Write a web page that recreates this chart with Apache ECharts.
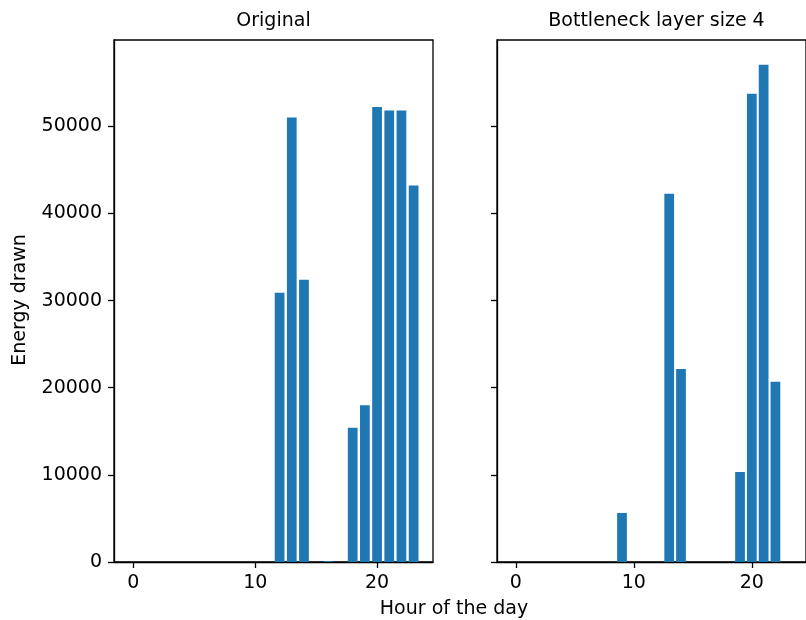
<!DOCTYPE html>
<html>
<head>
<meta charset="utf-8">
<title>Energy drawn by hour</title>
<script src="https://cdn.jsdelivr.net/npm/echarts@6/dist/echarts.min.js"></script>
<style>
  html, body { margin: 0; padding: 0; background: #fff; }
  #chart { width: 806px; height: 620px; }
</style>
</head>
<body>
<div id="chart"></div>
<script>
// hours 0..23
var hours = [0, 1, 2, 3, 4, 5, 6, 7, 8, 9, 10, 11, 12, 13, 14, 15, 16, 17, 18, 19, 20, 21, 22, 23];
var original = [0, 0, 0, 0, 0, 0, 0, 0, 0, 0, 0, 0, 30900, 51000, 32400, 0, 100, 0, 15400, 18000, 52200, 51800, 51800, 43200];
var bottleneck = [0, 0, 0, 0, 0, 0, 0, 0, 0, 5630, 0, 0, 0, 42250, 22160, 0, 0, 0, 0, 10330, 53730, 57060, 20670, 0];
var panelTitles = ["Original", "Bottleneck layer size 4"];
var xTicks = [0, 10, 20];
var yTicks = [0, 10000, 20000, 30000, 40000, 50000];

var font = "DejaVu Sans";
var fontSize = 19;
var blue = "#1f77b4";

function pairs(values) {
  var out = [];
  for (var i = 0; i < hours.length; i++) {
    out.push([hours[i], values[i]]);
  }
  return out;
}

function xAxisFor(idx) {
  return {
    type: "value",
    gridIndex: idx,
    min: -1.59,
    max: 24.59,
    splitLine: { show: false },
    axisLine: { show: true, onZero: false, lineStyle: { color: "#000", width: 1.3 } },
    axisTick: { show: true, length: 6, customValues: xTicks, lineStyle: { color: "#000", width: 1.3 } },
    axisLabel: { customValues: xTicks, color: "#000", fontFamily: font, fontSize: fontSize, margin: 12 },
  };
}

function yAxisFor(idx, labels) {
  return {
    type: "value",
    gridIndex: idx,
    min: 0,
    max: 59900,
    splitLine: { show: false },
    axisLine: { show: true, onZero: false, lineStyle: { color: "#000", width: 1.3 } },
    axisTick: { show: true, length: 6, customValues: yTicks, lineStyle: { color: "#000", width: 1.3 } },
    axisLabel: {
      show: labels,
      customValues: yTicks,
      color: "#000",
      fontFamily: font,
      fontSize: fontSize,
      margin: 12,
      formatter: function (v) { return String(v); },
    },
  };
}

var chart = echarts.init(document.getElementById("chart"), null, { renderer: "canvas" });
var option = {
  animation: false,
  backgroundColor: "#fff",
  grid: [
    { left: 114, top: 40, width: 319, height: 522, show: true, borderColor: "#000", borderWidth: 1.3 },
    { left: 497, top: 40, width: 319, height: 522, show: true, borderColor: "#000", borderWidth: 1.3 },
  ],
  xAxis: [xAxisFor(0), xAxisFor(1)],
  yAxis: [yAxisFor(0, true), yAxisFor(1, false)],
  series: [
    { type: "bar", xAxisIndex: 0, yAxisIndex: 0, barWidth: 9.74, itemStyle: { color: blue }, data: pairs(original) },
    { type: "bar", xAxisIndex: 1, yAxisIndex: 1, barWidth: 9.74, itemStyle: { color: blue }, data: pairs(bottleneck) },
  ],
  graphic: [
    { type: "text", x: 273.5, y: 21, style: { text: panelTitles[0], fill: "#000", font: fontSize + "px " + font, textAlign: "center", textVerticalAlign: "middle" } },
    { type: "text", x: 656.5, y: 21, style: { text: panelTitles[1], fill: "#000", font: fontSize + "px " + font, textAlign: "center", textVerticalAlign: "middle" } },
    { type: "text", x: 454, y: 609, style: { text: "Hour of the day", fill: "#000", font: fontSize + "px " + font, textAlign: "center", textVerticalAlign: "middle" } },
    { type: "text", x: 20, y: 300, rotation: Math.PI / 2, style: { text: "Energy drawn", fill: "#000", font: fontSize + "px " + font, textAlign: "center", textVerticalAlign: "middle" } },
  ],
};
chart.setOption(option);
</script>
</body>
</html>
